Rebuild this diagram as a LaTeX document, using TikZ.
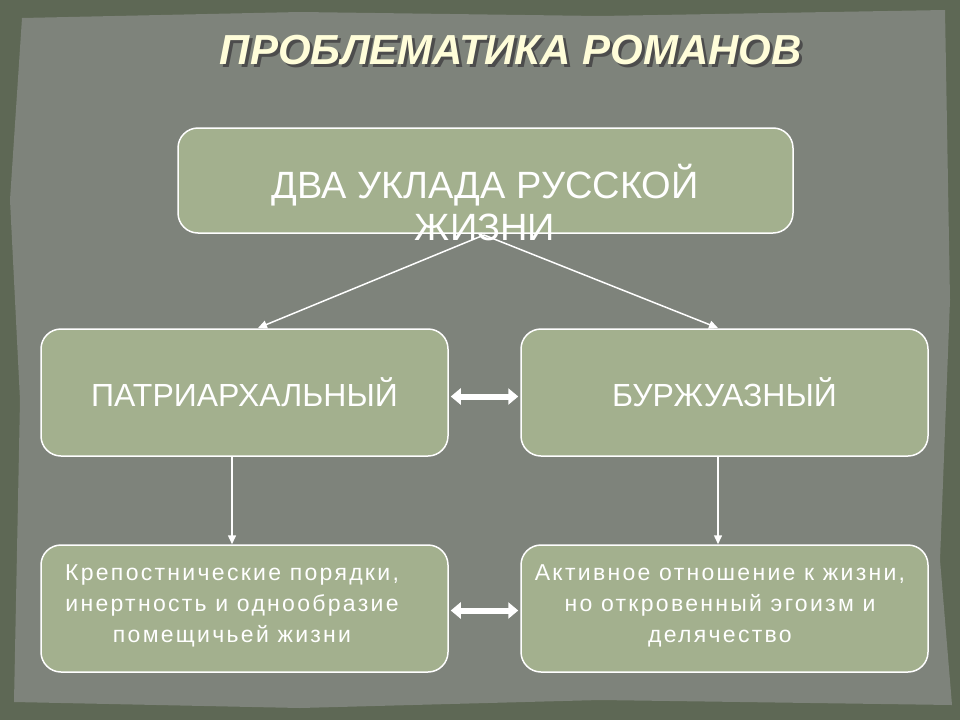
\documentclass[tikz,border=0pt]{standalone}
\usepackage{fontspec}
\setmainfont{Liberation Sans}
\newfontfamily\spaced[LetterSpace=10]{Liberation Sans}
\usetikzlibrary{arrows.meta}
\definecolor{outerc}{HTML}{5E6855}
\definecolor{paper}{HTML}{7E837B}
\definecolor{boxc}{HTML}{A3B08E}
\tikzset{x=1pt,y=-1pt,
 box/.style={draw=white,line width=1.5pt,fill=boxc,rounded corners=20pt,minimum width=407pt,minimum height=127pt,text=white,align=center,font=\fontsize{32}{36}\selectfont},
 small/.style={box},
 btxt/.style={align=center,text=white,font=\spaced\fontsize{23}{31}\selectfont},
 conn/.style={draw=white,line width=1.5pt,-{Triangle[length=9pt,width=8pt]}},
 dbl/.style={draw=white,line width=6pt,{Triangle[length=10pt,width=16pt]}-{Triangle[length=10pt,width=16pt]}}}
\begin{document}
\begin{tikzpicture}
\useasboundingbox (0,0) rectangle (960,720);
\fill[outerc] (0,0) rectangle (960,720);
\fill[paper] (22,18) -- (300,12) -- (600,16) -- (945,10) -- (950,300) -- (940,560) -- (952,705) -- (600,700) -- (300,708) -- (14,702) -- (20,400) -- (10,200) -- cycle;
\node[font=\bfseries\itshape\fontsize{42}{46}\selectfont,text=black!70] at (514,53) {ПРОБЛЕМАТИКА РОМАНОВ};
\node[font=\bfseries\itshape\fontsize{42}{46}\selectfont,text=white!85!yellow] (title) at (511,50) {ПРОБЛЕМАТИКА РОМАНОВ};
\node[box,minimum width=615pt,minimum height=105pt] (top) at (485.5,180.5) {};
\node[text=white,align=center,font=\fontsize{38}{42}\selectfont] (toptxt) at (485,203) {ДВА УКЛАДА РУССКОЙ\\ЖИЗНИ};
\node[box] (pat) at (244.5,392.5) {ПАТРИАРХАЛЬНЫЙ};
\node[box] (bur) at (724.5,392.5) {БУРЖУАЗНЫЙ};
\node[small] (kr) at (244.5,608.5) {};
\node[small] (ak) at (724.5,608.5) {};
\node[btxt] (krt) at (232,606) {Крепостнические порядки,\\инертность и однообразие\\помещичьей жизни};
\node[btxt] (akt) at (720,606) {Активное отношение к жизни,\\но откровенный эгоизм и\\делячество};
\coordinate (src) at (484,235);
\coordinate (pl) at (258,328);
\coordinate (br) at (718,328);
\draw[conn] (src) -- (pl);
\draw[conn] (src) -- (br);
\draw[conn] (pat.south -| 232,0) -- (kr.north -| 232,0);
\draw[conn] (bur.south -| 718,0) -- (ak.north -| 718,0);
\draw[dbl] ([xshift=2pt,yshift=-4pt]pat.east) -- ([xshift=-2pt,yshift=-4pt]bur.west);
\draw[dbl] ([xshift=2pt,yshift=-2pt]kr.east) -- ([xshift=-2pt,yshift=-2pt]ak.west);
\end{tikzpicture}
\end{document}
